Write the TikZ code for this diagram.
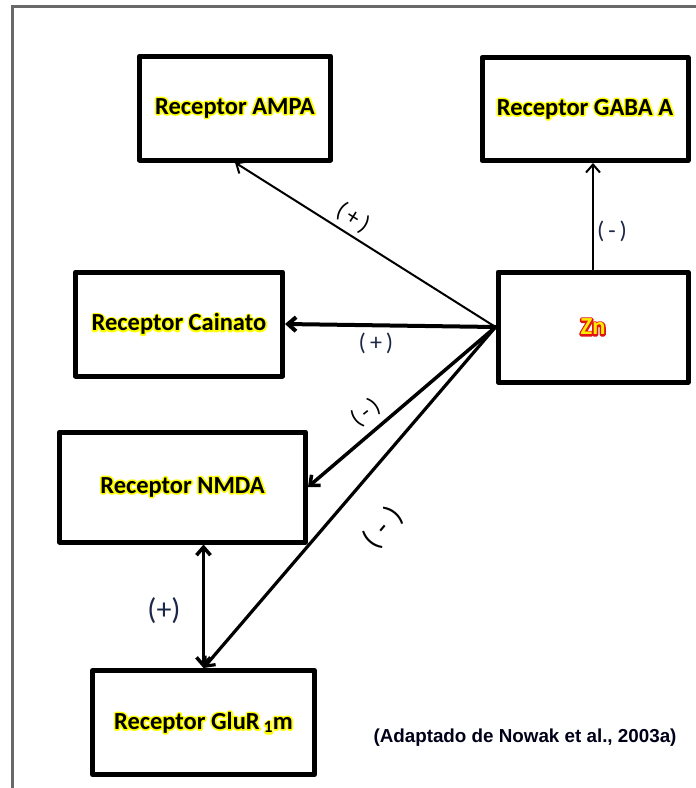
\documentclass[tikz,border=0pt]{standalone}
\usepackage{fontspec}
\setmainfont{Carlito}
\newfontfamily\capfont{Liberation Sans}
\usetikzlibrary{arrows.meta}
\definecolor{glowy}{RGB}{255,255,0}
\definecolor{navy}{RGB}{28,38,72}
\definecolor{framegray}{RGB}{105,105,105}
\definecolor{znred}{RGB}{225,20,20}
\definecolor{znyel}{RGB}{255,235,0}
\newcommand{\glowtxt}[3]{%
\leavevmode
\rlap{\color{#1}\special{pdf:literal direct 1 Tr 3.2 w 1 j 1 J}#3\special{pdf:literal direct 0 Tr}}%
{\color{#2}#3}}
\begin{document}
\begin{tikzpicture}[x=1pt,y=-1pt,
  box/.style={draw=black,line width=5pt,line join=round,inner sep=0pt,fill=white,
    font=\fontsize{24.5}{28}\selectfont\bfseries},
  sign/.style={font=\fontsize{24}{28}\selectfont,inner sep=0pt},
  bigsign/.style={font=\fontsize{30}{34}\selectfont,inner sep=0pt},
  conn/.style={draw=black,line cap=round,-{Straight Barb[length=8pt,width=14pt,line join=miter]}},
  bothconn/.style={draw=black,line cap=round,{Straight Barb[length=8pt,width=14pt,line join=miter]}-{Straight Barb[length=8pt,width=14pt,line join=miter]}}
]
\useasboundingbox (0,0) rectangle (696,788);
\fill[white] (0,0) rectangle (696,788);
% frame
\draw[framegray,line width=3pt] (12.5,788) -- (12.5,6) -- (696,6);

% boxes
\node[box,minimum width=191pt,minimum height=104pt] (AMPA) at (235,108) {\glowtxt{glowy}{black}{Receptor AMPA}};
\node[box,minimum width=206pt,minimum height=103pt] (GABA) at (585,109) {\glowtxt{glowy}{black}{Receptor GABA A}};
\node[box,minimum width=190pt,minimum height=110pt] (Zn) at (593,327) {\glowtxt{znred}{znyel}{Zn}};
\node[box,minimum width=207pt,minimum height=104pt] (Cain) at (179,324) {\glowtxt{glowy}{black}{Receptor Cainato}};
\node[box,minimum width=246pt,minimum height=110pt] (NMDA) at (182.5,487) {\glowtxt{glowy}{black}{Receptor NMDA}};
\node[box,minimum width=222pt,minimum height=104pt] (GluR) at (203.5,722.5) {\glowtxt{glowy}{black}{Receptor GluR\,\textsubscript{1}m}};

% connectors
\draw[conn,line width=2pt] (Zn.west) -- (AMPA.south);
\draw[conn,line width=2pt] (Zn.north) -- (Zn.north |- GABA.south);
\draw[conn,line width=4pt] (Zn.west) -- (Cain.east);
\draw[conn,line width=3.5pt] (Zn.west) -- (NMDA.east);
\draw[conn,line width=3.2pt] (Zn.west) -- (GluR.north);
\draw[bothconn,line width=3.5pt] (GluR.north) -- (GluR.north |- NMDA.south);

% signs
\node[sign,rotate=-32] (sAMPA) at (353,218) {(\,+\,)};
\node[sign,text=navy] (sGABA) at (612,231) {(\,-\,)};
\node[sign,text=navy] (sCain) at (376,343) {(\,+\,)};
\node[sign,rotate=39] (sNMDA) at (366,413) {(\,-\,)};
\node[bigsign,rotate=50] (sGluR) at (383,528) {(\;-\;)};
\node[bigsign,text=navy] (sBoth) at (164,611) {(+)};

% caption
\node[font=\capfont\bfseries\fontsize{18.8}{22}\selectfont,text=black!90!blue,inner sep=0pt] (cap) at (525,738) {(Adaptado de Nowak et al., 2003a)};
\end{tikzpicture}
\end{document}
